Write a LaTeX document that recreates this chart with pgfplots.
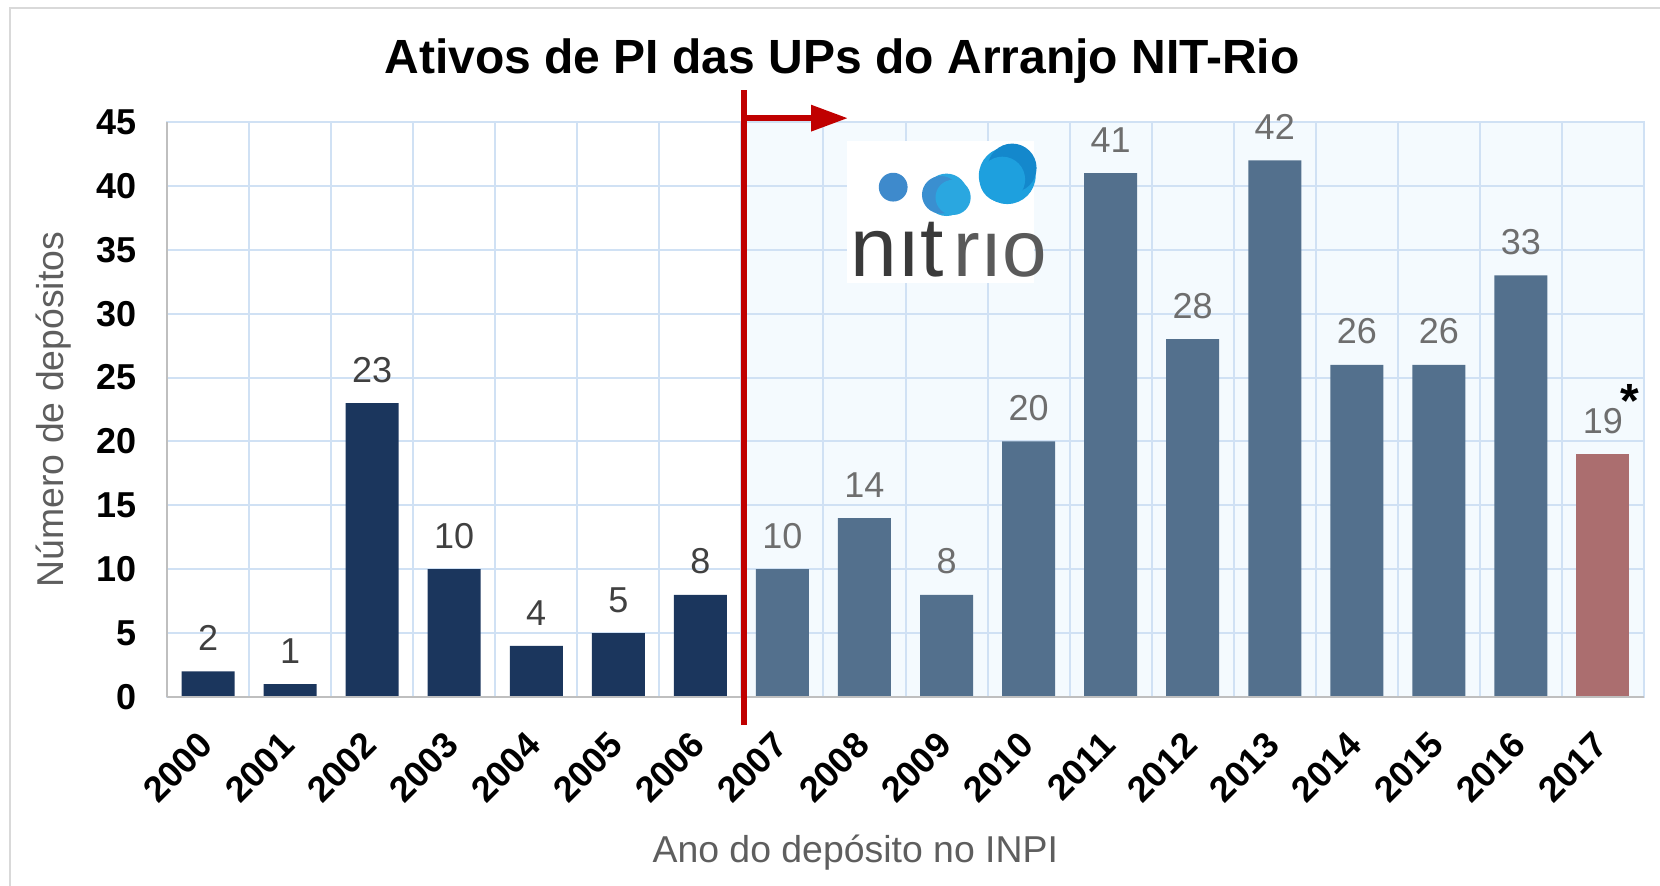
\documentclass[border=0pt]{standalone}
\usepackage{pgfplots}
\pgfplotsset{compat=1.18}
\usepackage{fontspec}
\setmainfont{Liberation Sans}
\usetikzlibrary{arrows.meta}
\definecolor{navy}{HTML}{1B365D}
\definecolor{steel}{HTML}{53708D}
\definecolor{rose}{HTML}{AB6E6F}
\definecolor{gridb}{HTML}{D0E1F4}
\definecolor{bgb}{HTML}{F4FAFE}
\definecolor{lab1}{HTML}{404040}
\definecolor{lab2}{HTML}{6E6E6E}
\definecolor{axlab}{HTML}{5E5E5E}
\definecolor{axg}{HTML}{BFBFBF}
\definecolor{frameg}{HTML}{D9D9D9}
\definecolor{nitred}{HTML}{C00000}
\definecolor{c1}{HTML}{3E8ACC}
\definecolor{c2}{HTML}{2AA7E0}
\definecolor{c2d}{HTML}{3A8FD0}
\definecolor{c3}{HTML}{1EA0DE}
\definecolor{c3d}{HTML}{1488CC}
\definecolor{logotext}{HTML}{3A3A3A}
\definecolor{logotextb}{HTML}{5A5A5A}
\begin{document}
\begin{tikzpicture}
\draw[frameg, line width=0.55pt] (2.4pt,0) -- (2.4pt,219.4pt) -- (415pt,219.4pt);
\node[anchor=base, font=\bfseries\fontsize{12}{14}\selectfont] at (210.5pt,203pt) {Ativos de PI das UPs do Arranjo NIT-Rio};
\begin{axis}[
  set layers,
  at={(41.75pt,47.25pt)}, anchor=south west,
  scale only axis, width=369.25pt, height=143.75pt,
  xmin=-0.5, xmax=17.5, ymin=0, ymax=45,
  clip=false,
  xtick={0,...,17},
  xticklabels={2000,2001,2002,2003,2004,2005,2006,2007,2008,2009,2010,2011,2012,2013,2014,2015,2016,2017},
  minor xtick={0.5,1.5,...,16.5},
  ytick={0,5,...,45},
  ymajorgrids, xminorgrids,
  major grid style={gridb, line width=0.5pt},
  minor grid style={gridb, line width=0.5pt},
  major tick length=0pt, minor tick length=0pt,
  axis line style={gridb, line width=0.5pt},
  tick label style={font=\bfseries\fontsize{9}{10}\selectfont, black},
  /pgf/number format/assume math mode=true,
  yticklabel style={xshift=-4.2pt},
  xticklabel style={xshift=2pt, yshift=-8pt, rotate=45, anchor=east},
  ylabel={Número de depósitos},
  xlabel={Ano do depósito no INPI},
  every axis y label/.style={at={(rel axis cs:-0.0765,0.5)}, anchor=center, rotate=90, font=\fontsize{9.35}{10}\selectfont, text=axlab},
  every axis x label/.style={at={(rel axis cs:0.466,-0.27)}, anchor=center, font=\fontsize{9.35}{10}\selectfont, text=axlab},
  nodes near coords style={font=\fontsize{9}{10}\selectfont, anchor=south, yshift=1.6pt},
]
\begin{pgfonlayer}{axis background}
\fill[bgb] (axis cs:6.5,0) rectangle (axis cs:17.5,45);
\end{pgfonlayer}
\addplot[ybar, bar width=13.25pt, bar shift=0pt, fill=navy, draw=none,
  nodes near coords, every node near coord/.append style={text=lab1}]
  coordinates {(0,2) (1,1) (2,23) (3,10) (4,4) (5,5) (6,8)};
\addplot[ybar, bar width=13.25pt, bar shift=0pt, fill=steel, draw=none,
  nodes near coords, every node near coord/.append style={text=lab2}]
  coordinates {(7,10) (8,14) (9,8) (10,20) (11,41) (12,28) (13,42) (14,26) (15,26) (16,33)};
\addplot[ybar, bar width=13.25pt, bar shift=0pt, fill=rose, draw=none,
  nodes near coords={\pgfmathprintnumber{\pgfplotspointmeta}\rlap{\kern-0.6pt\raisebox{4pt}{\color{black}\bfseries\fontsize{12}{12}\selectfont*}}},
  every node near coord/.append style={text=lab2}]
  coordinates {(17,19)};
\draw[axg, line width=0.6pt] (axis cs:-0.5,0) -- (axis cs:17.5,0);
\draw[axg, line width=0.6pt] (axis cs:-0.5,0) -- (axis cs:-0.5,45);
% red divider and arrow
\draw[nitred, line width=1.6pt] (axis cs:6.53,-2.2) -- (axis cs:6.53,47.5);
\draw[nitred, line width=1.5pt] (axis cs:6.53,45.3) -- (axis cs:7.4,45.3);
\fill[nitred] (axis cs:7.35,46.35) -- (axis cs:7.79,45.3) -- (axis cs:7.35,44.25) -- cycle;
% logo
\fill[white] (axis cs:7.79,32.4) rectangle (axis cs:10.07,43.55);
\fill[c1] (axis cs:8.35,39.9) circle[radius=3.6pt];
\fill[c2] (axis cs:9.0,39.3) circle[radius=5.3pt];
\fill[c2d] (axis cs:8.93,39.3) circle[radius=4.7pt];
\fill[c2] (axis cs:9.08,39.1) circle[radius=4.4pt];
\fill[c3] (axis cs:9.74,40.8) circle[radius=7.1pt];
\fill[c3d] (axis cs:9.8,41.4) circle[radius=6.1pt];
\fill[c3] (axis cs:9.68,40.5) circle[radius=5.7pt];
\node[anchor=base west, inner sep=0pt, text=logotext, font=\fontsize{21}{20}\selectfont] at (axis cs:7.82,32.9) {nıt};
\node[anchor=base west, inner sep=0pt, text=logotextb, font=\fontsize{20}{20}\selectfont] at (axis cs:9.08,32.9) {rıo};
\end{axis}
\pgfresetboundingbox
\useasboundingbox (0,0) rectangle (415pt,221.5pt);
\end{tikzpicture}
\end{document}
